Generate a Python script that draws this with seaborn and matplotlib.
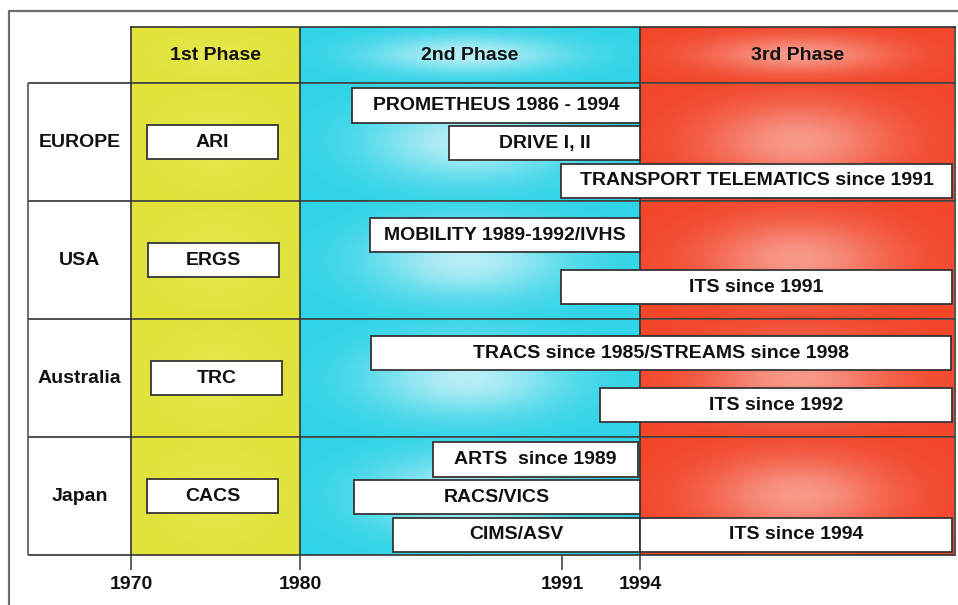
import numpy as np
import matplotlib.pyplot as plt
import seaborn as sns
from matplotlib.colors import LinearSegmentedColormap
from matplotlib.lines import Line2D

# ---- data -------------------------------------------------------------
regions = ["EUROPE", "USA", "Australia", "Japan"]

phase_names = ["1st Phase", "2nd Phase", "3rd Phase"]
phase_starts = [1970, 1980, 1994]
phase_ends = [1980, 1994, 2007]

tick_years = [1970, 1980, 1991, 1994]

# first-phase programmes (one per region)
first_labels = ["ARI", "ERGS", "TRC", "CACS"]
first_start = [1970.95, 1971.0, 1971.2, 1970.95]
first_end = [1978.7, 1978.75, 1978.95, 1978.7]

# later programmes, lane = sub-row inside the region (0 = top)
prog_labels = [
    "PROMETHEUS 1986 - 1994", "DRIVE I, II", "TRANSPORT TELEMATICS since 1991",
    "MOBILITY 1989-1992/IVHS", "ITS since 1991",
    "TRACS since 1985/STREAMS since 1998", "ITS since 1992",
    "ARTS  since 1989", "RACS/VICS", "CIMS/ASV", "ITS since 1994",
]
prog_region = ["EUROPE", "EUROPE", "EUROPE", "USA", "USA",
               "Australia", "Australia", "Japan", "Japan", "Japan", "Japan"]
prog_lane = [0, 1, 2, 0, 1, 0, 1, 0, 1, 2, 2]
prog_start = [1982.2, 1986.25, 1990.95, 1982.95, 1990.95,
              1983.0, 1992.45, 1985.6, 1982.25, 1983.9, 1994.0]
prog_end = [1994.0, 1994.0, 2006.88, 1994.0, 2006.88,
            2006.85, 2006.88, 1993.92, 1994.0, 1994.0, 2006.88]

# ---- time axis: the 1970s are drawn compressed ---------------------------
AXIS_BREAKS = [1970, 1980, 1991, 1994, 2007]
AXIS_UNITS = [0, 169, 431, 509, 824]


def _piecewise(v, xp, fp):
    v = np.asarray(v, dtype=float)
    out = np.interp(v, xp, fp)
    lo_slope = (fp[1] - fp[0]) / (xp[1] - xp[0])
    hi_slope = (fp[-1] - fp[-2]) / (xp[-1] - xp[-2])
    out = np.where(v < xp[0], fp[0] + (v - xp[0]) * lo_slope, out)
    out = np.where(v > xp[-1], fp[-1] + (v - xp[-1]) * hi_slope, out)
    return out


def fwd(v):
    return _piecewise(v, AXIS_BREAKS, AXIS_UNITS)


def inv(v):
    return _piecewise(v, AXIS_UNITS, AXIS_BREAKS)


def mid(a, b):
    return float(inv((fwd(a) + fwd(b)) / 2))


sns.set_theme(style="white")
plt.rcParams["font.family"] = ["Liberation Sans", "DejaVu Sans"]

INK = "#111111"
LINE = "#333333"
HEADER_H = 0.475
BOX_H = 0.29
LANE_Y = {3: [0.19, 0.51, 0.83], 2: [0.29, 0.73]}
LEFT_COL = -0.125
FS = 14

phase_colors = [("#e1e33b", "#e6e84e"), ("#2fd3e7", "#b8eef6"), ("#f2462a", "#f8998a")]

fig = plt.figure(figsize=(9.58, 6.05), dpi=100)
ax = fig.add_axes([131 / 958, 50 / 605, 824 / 958, 528 / 605])
ax.set_xscale("function", functions=(fwd, inv))

# phase backgrounds, one radial highlight per cell
u = np.linspace(-1, 1, 160)
v = np.linspace(-1, 1, 80)
U, V = np.meshgrid(u, v)
glow = np.exp(-((U / 0.58) ** 2 + (V / 0.65) ** 2))
cells = [(-HEADER_H, 0)] + [(r, r + 1) for r in range(len(regions))]
for (edge, centre), x0, x1 in zip(phase_colors, phase_starts, phase_ends):
    cmap = LinearSegmentedColormap.from_list("cell", [edge, centre])
    for y0, y1 in cells:
        ax.imshow(glow, cmap=cmap, vmin=0, vmax=1, extent=(x0, x1, y1, y0),
                  aspect="auto", interpolation="bilinear", zorder=0)

# grid
ax.hlines(range(len(regions) + 1), LEFT_COL, 1, transform=ax.get_yaxis_transform(),
          colors=LINE, lw=1.2, clip_on=False, zorder=2)
ax.vlines([LEFT_COL], 0, len(regions), transform=ax.get_yaxis_transform(),
          colors="#555555", lw=1.2, clip_on=False, zorder=2)
for yr in phase_starts[1:]:
    ax.axvline(yr, color=LINE, lw=1.2, zorder=2)

# headers and region names
for name, x0, x1 in zip(phase_names, phase_starts, phase_ends):
    ax.text(mid(x0, x1), -HEADER_H / 2, name, ha="center", va="center",
            fontsize=FS, fontweight="bold", color=INK)
for i, reg in enumerate(regions):
    ax.text(LEFT_COL / 2, i + 0.5, reg, transform=ax.get_yaxis_transform(),
            ha="center", va="center", fontsize=FS, fontweight="bold", color=INK)

# programme boxes
box_kw = dict(height=BOX_H, color="white", edgecolor="#353535", linewidth=1.3, zorder=3)
y_first = [i + 0.5 for i in range(len(regions))]
ax.barh(y_first, np.subtract(first_end, first_start), left=first_start, **box_kw)
for lab, s, e, y in zip(first_labels, first_start, first_end, y_first):
    ax.text(mid(s, e), y, lab, ha="center", va="center", fontsize=FS,
            fontweight="bold", color=INK, zorder=4)

n_lanes = {r: max(l for rg, l in zip(prog_region, prog_lane) if rg == r) + 1 for r in regions}
y_prog = [regions.index(r) + LANE_Y[n_lanes[r]][l] for r, l in zip(prog_region, prog_lane)]
ax.barh(y_prog, np.subtract(prog_end, prog_start), left=prog_start, **box_kw)
for lab, s, e, y in zip(prog_labels, prog_start, prog_end, y_prog):
    ax.text(mid(s, e), y, lab, ha="center", va="center", fontsize=FS,
            fontweight="bold", color=INK, zorder=4)

ax.set_xlim(phase_starts[0], phase_ends[-1])
ax.set_ylim(len(regions), -HEADER_H)
ax.set_yticks([])
ax.set_xticks(tick_years)
ax.set_xticklabels([str(t) for t in tick_years], fontsize=FS, fontweight="bold", color=INK)
ax.tick_params(axis="x", bottom=True, direction="out", length=11, width=1.3,
               color="#555555", pad=4)
ax.spines["bottom"].set_visible(False)
for side in ["top", "left", "right"]:
    ax.spines[side].set_color(LINE)
    ax.spines[side].set_linewidth(1.2)

# page frame
fig.add_artist(Line2D([9 / 958, 1], [1 - 11 / 605, 1 - 11 / 605], color="#707070", lw=1.6))
fig.add_artist(Line2D([9 / 958, 9 / 958], [0, 1 - 11 / 605], color="#707070", lw=1.6))

fig.savefig("out.png", dpi=100)
